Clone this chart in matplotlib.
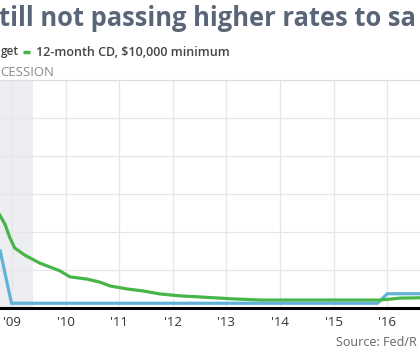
import matplotlib
matplotlib.use("Agg")
import matplotlib.pyplot as plt

# Data (decimal years, percent)
fed_years = [2008.78, 2008.99, 2015.82, 2016.0, 2016.7]
fed_rate = [1.5, 0.125, 0.125, 0.375, 0.375]

cd_years = [2008.77, 2008.87, 2008.96, 2009.05, 2009.24, 2009.52, 2009.89,
            2010.08, 2010.40, 2010.64, 2010.83, 2011.15, 2011.44, 2011.76,
            2012.13, 2012.51, 2013.12, 2013.63, 2014.37, 2015.49, 2015.87,
            2016.24, 2016.7]
cd_rate = [2.45, 2.2, 1.85, 1.58, 1.39, 1.18, 0.98,
           0.82, 0.76, 0.68, 0.58, 0.5, 0.45, 0.37,
           0.32, 0.29, 0.24, 0.21, 0.21, 0.21, 0.21,
           0.26, 0.27]

years = list(range(2009, 2017))
year_labels = ["'09", "'10", "'11", "'12", "'13", "'14", "'15", "'16"]
recession = (2008.0, 2009.4)

BLUE = "#62b1d8"
GREEN = "#47b549"
TITLE_C = "#5a6578"

plt.rcParams["font.family"] = ["Open Sans", "DejaVu Sans"]

fig = plt.figure(figsize=(4.2, 3.5), dpi=100, facecolor="white")
ax = fig.add_axes([0, 42 / 350, 1, 228 / 350])

ax.axvspan(*recession, color="#eceef1", zorder=0, lw=0)
ax.plot(fed_years, fed_rate, color=BLUE, lw=2.3, solid_joinstyle="miter", zorder=3)
ax.plot(cd_years, cd_rate, color=GREEN, lw=2.3, zorder=4)

ax.set_xlim(2008.776, 2016.612)
ax.set_ylim(0, 6)
ax.set_xticks(years)
ax.set_xticklabels(year_labels)
ax.set_yticks(range(0, 7))
ax.tick_params(axis="y", left=False, labelleft=False)
ax.tick_params(axis="x", length=0, pad=6, labelsize=9.5, labelcolor="#333333")
ax.grid(True, color="#e6e6e6", lw=0.9)
ax.set_axisbelow(True)

for side in ["left", "right"]:
    ax.spines[side].set_visible(False)
ax.spines["top"].set_color("#dddddd")
ax.spines["bottom"].set_color("black")
ax.spines["bottom"].set_linewidth(2.2)
ax.spines["bottom"].set_zorder(5)

# Header texts (chart is cropped on the left and right)
fig.text(-0.002, 1 - 19 / 350, "till not passing higher rates to sa", fontsize=18.4,
         fontweight="bold", color=TITLE_C, va="center", ha="left")
fig.text(0.002, 1 - 52 / 350, "get", fontsize=8.5, fontweight="semibold",
         color="#444444", va="center", ha="left")
fig.lines.append(plt.Line2D([23 / 420, 30 / 420], [1 - 52 / 350] * 2,
                            color=GREEN, lw=2.5, solid_capstyle="butt",
                            transform=fig.transFigure))
fig.text(36 / 420, 1 - 52 / 350, "12-month CD, $10,000 minimum", fontsize=9,
         fontweight="semibold", color="#444444", va="center")
fig.text(0, 1 - 73 / 350, "CESSION", fontsize=9.5, color="#8a8a8a", va="center")
fig.text(336 / 420, 1 - 342 / 350, "Source: Fed/R", fontsize=9, color="#666666",
         va="center")

fig.savefig("out.png", dpi=100)
